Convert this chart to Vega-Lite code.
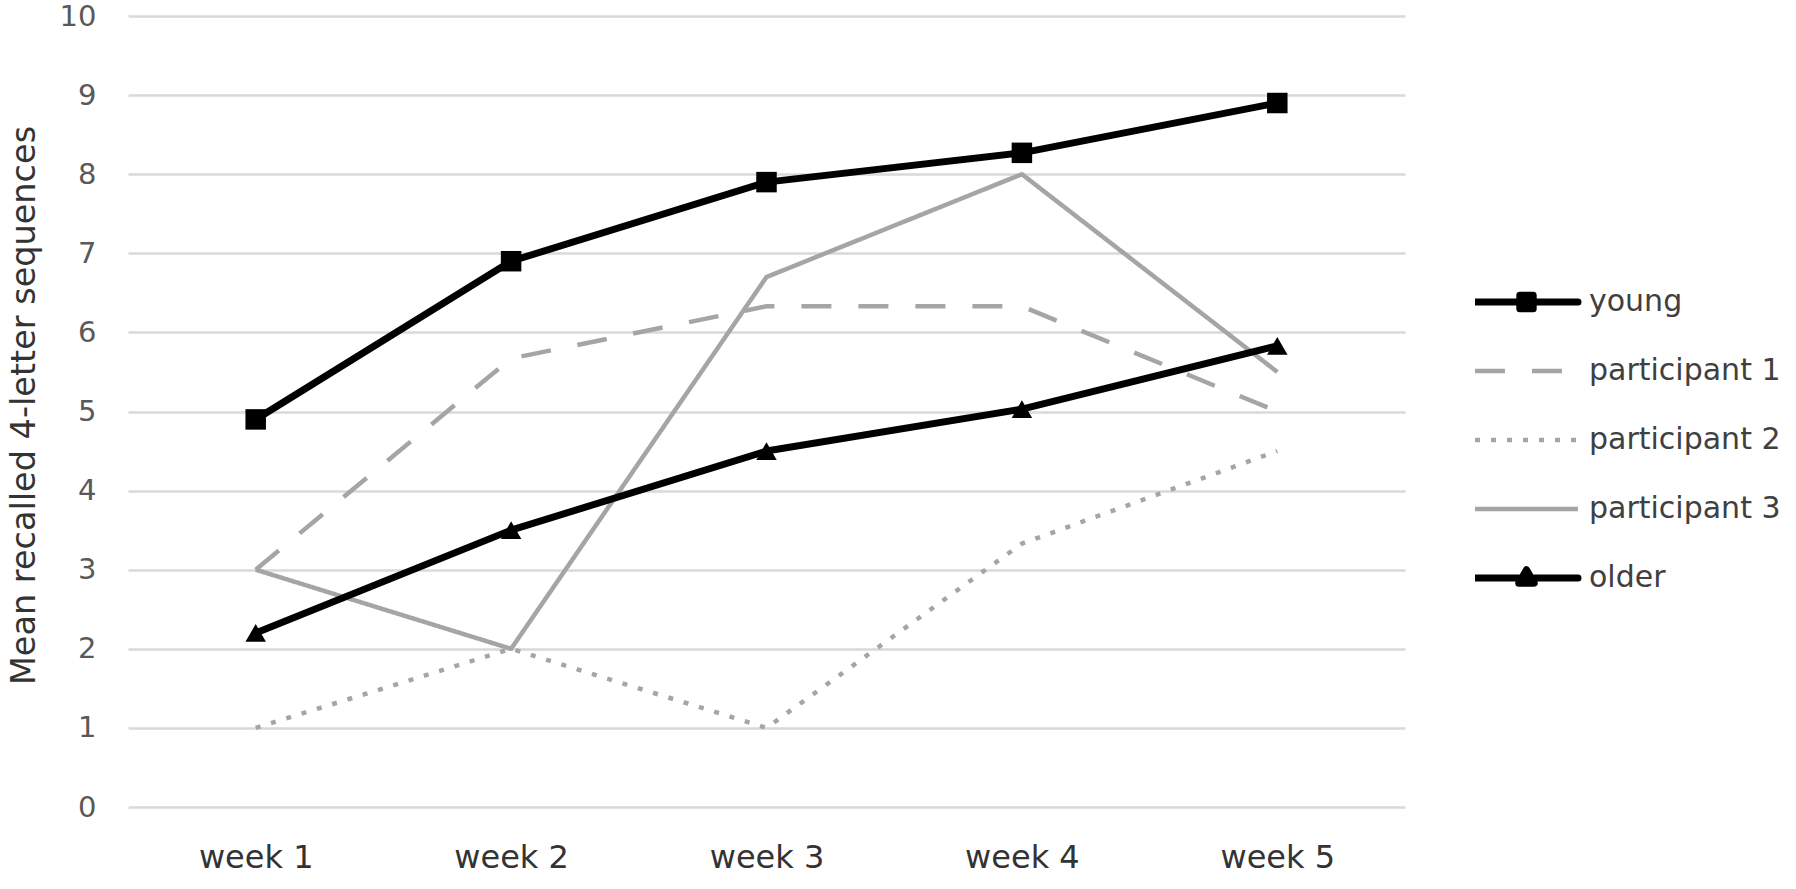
{
  "$schema": "https://vega.github.io/schema/vega-lite/v6.json",
  "width": 1277,
  "height": 791,
  "autosize": "none",
  "padding": {"left": 128, "top": 16, "right": 391, "bottom": 82},
  "background": "white",
  "config": {"view": {"stroke": null}, "font": "DejaVu Sans"},
  "data": {
    "values": [
      {"series": "young", "week": "week 1", "value": 4.9},
      {"series": "young", "week": "week 2", "value": 6.9},
      {"series": "young", "week": "week 3", "value": 7.9},
      {"series": "young", "week": "week 4", "value": 8.27},
      {"series": "young", "week": "week 5", "value": 8.9},
      {"series": "participant 1", "week": "week 1", "value": 3},
      {"series": "participant 1", "week": "week 2", "value": 5.67},
      {"series": "participant 1", "week": "week 3", "value": 6.33},
      {"series": "participant 1", "week": "week 4", "value": 6.33},
      {"series": "participant 1", "week": "week 5", "value": 5},
      {"series": "participant 2", "week": "week 1", "value": 1},
      {"series": "participant 2", "week": "week 2", "value": 2},
      {"series": "participant 2", "week": "week 3", "value": 1},
      {"series": "participant 2", "week": "week 4", "value": 3.33},
      {"series": "participant 2", "week": "week 5", "value": 4.5},
      {"series": "participant 3", "week": "week 1", "value": 3},
      {"series": "participant 3", "week": "week 2", "value": 2},
      {"series": "participant 3", "week": "week 3", "value": 6.7},
      {"series": "participant 3", "week": "week 4", "value": 8},
      {"series": "participant 3", "week": "week 5", "value": 5.5},
      {"series": "older", "week": "week 1", "value": 2.2},
      {"series": "older", "week": "week 2", "value": 3.5},
      {"series": "older", "week": "week 3", "value": 4.5},
      {"series": "older", "week": "week 4", "value": 5.03},
      {"series": "older", "week": "week 5", "value": 5.83}
    ]
  },
  "encoding": {
    "x": {
      "field": "week",
      "type": "ordinal",
      "scale": {"type": "point", "padding": 0.5},
      "axis": {
        "title": null,
        "labelAngle": 0,
        "domain": false,
        "ticks": false,
        "labelFontSize": 32,
        "labelColor": "#333333",
        "labelPadding": 35
      }
    },
    "y": {
      "field": "value",
      "type": "quantitative",
      "scale": {"domain": [0, 10], "nice": false},
      "axis": {
        "values": [0, 1, 2, 3, 4, 5, 6, 7, 8, 9, 10],
        "grid": true,
        "gridColor": "#d9d9d9",
        "gridWidth": 2.5,
        "domain": false,
        "ticks": false,
        "labelFontSize": 29,
        "labelColor": "#595959",
        "labelPadding": 32,
        "title": "Mean recalled 4-letter  sequences",
        "titleFontSize": 33.5,
        "titleFontWeight": "normal",
        "titleColor": "#333333",
        "titleBaseline": "middle",
        "titleX": -104,
        "titleY": 389
      }
    },
    "color": {
      "field": "series",
      "type": "nominal",
      "scale": {
        "domain": ["young", "participant 1", "participant 2", "participant 3", "older"],
        "range": ["#000000", "#a5a5a5", "#a5a5a5", "#a5a5a5", "#000000"]
      },
      "legend": {
        "title": null,
        "orient": "none",
        "legendX": 1347,
        "legendY": 261,
        "padding": 0,
        "symbolType": "stroke",
        "symbolSize": 10609,
        "clipHeight": 50,
        "rowPadding": 19,
        "labelOffset": 13,
        "labelLimit": 0,
        "labelFontSize": 30,
        "labelColor": "#404040",
        "encode": {
          "symbols": {
            "update": {
              "x": {"value": 51.5},
              "size": {"value": 10609},
              "shape": {"signal": "datum.value === 'young' ? 'M-1,0H1M-0.13,-0.13H0.13V0.13H-0.13Z' : datum.value === 'older' ? 'M-1,0H1M0,-0.16L0.15,0.1H-0.15Z' : 'stroke'"},
              "fill": {"signal": "datum.value === 'young' || datum.value === 'older' ? '#000000' : 'transparent'"},
              "strokeWidth": {"signal": "datum.value === 'young' || datum.value === 'older' ? 7 : 4.5"},
              "strokeCap": {"signal": "datum.value === 'young' || datum.value === 'older' ? 'round' : 'butt'"},
              "strokeJoin": {"value": "round"},
              "opacity": {"value": 1}
            }
          },
          "labels": {
            "update": {
              "x": {"value": 114}
            }
          }
        }
      }
    }
  },
  "layer": [
    {
      "transform": [{"filter": "datum.series !== 'young' && datum.series !== 'older'"}],
      "mark": {"type": "line", "strokeWidth": 4.5, "strokeCap": "butt", "strokeJoin": "round"},
      "encoding": {
        "strokeDash": {
          "field": "series",
          "type": "nominal",
          "scale": {
            "domain": ["young", "participant 1", "participant 2", "participant 3", "older"],
            "range": [[1, 0], [30, 27], [5, 11], [1, 0], [1, 0]]
          }
        }
      }
    },
    {
      "transform": [{"filter": "datum.series === 'young' || datum.series === 'older'"}],
      "mark": {"type": "line", "strokeWidth": 7, "strokeCap": "round", "strokeJoin": "round"},
      "encoding": {}
    },
    {
      "transform": [{"filter": "datum.series === 'young' || datum.series === 'older'"}],
      "mark": {"type": "point", "filled": true, "opacity": 1, "size": 420},
      "encoding": {
        "color": {"value": "#000000"},
        "shape": {
          "field": "series",
          "type": "nominal",
          "scale": {"domain": ["young", "older"], "range": ["square", "triangle-up"]},
          "legend": null
        }
      }
    }
  ]
}
